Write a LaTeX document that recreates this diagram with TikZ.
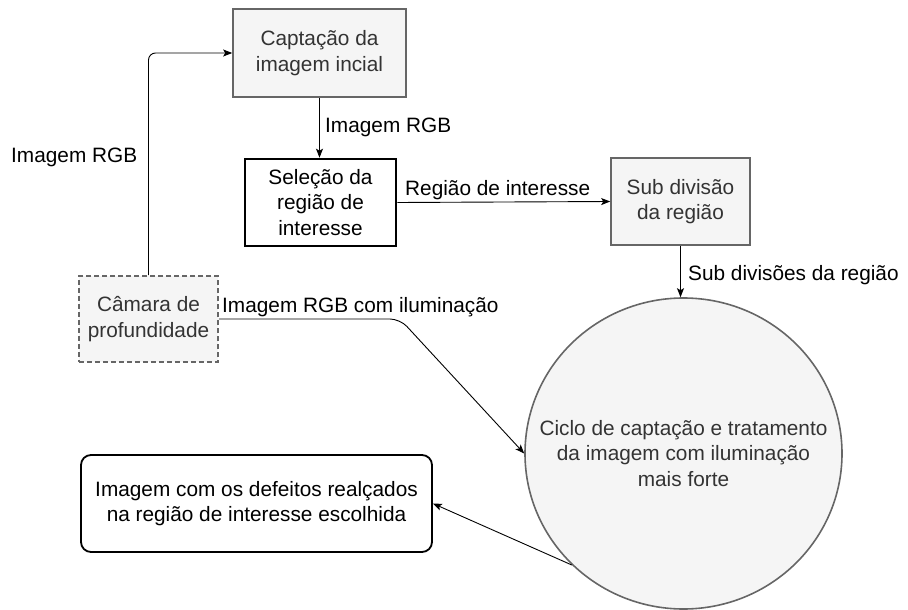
\documentclass[tikz,border=0pt]{standalone}
\usepackage{fontspec}
\setmainfont{Liberation Sans}
\usetikzlibrary{arrows.meta,shapes.geometric}
\definecolor{boxfill}{HTML}{F5F5F5}
\definecolor{boxline}{HTML}{666666}
\definecolor{boxtext}{HTML}{333333}
\begin{document}
\begin{tikzpicture}[x=1pt,y=-1pt,
  every node/.style={font=\fontsize{20.8}{25.5}\selectfont, align=center, inner sep=0pt},
  graybox/.style={draw=boxline, line width=1.6pt, fill=boxfill, text=boxtext},
  thickbox/.style={draw=black, line width=2.6pt, fill=white, text=black},
  dashbox/.style={graybox, dashed, dash pattern=on 5pt off 3pt},
  outbox/.style={draw=black, line width=1.8pt, fill=white, rounded corners=10pt},
  arr/.style={draw=black, line width=0.9pt, -{Stealth[length=9pt,width=7pt,inset=2pt]}},
  lbl/.style={text=black, anchor=west}]
\useasboundingbox (0,0) rectangle (908,610);
\node[graybox, minimum width=173pt, minimum height=88pt] (b1) at (319.5,53) {Captação da\\imagem incial};
\node[thickbox, minimum width=151pt, minimum height=87pt] (b2) at (320.5,202.5) {Seleção da\\região de\\interesse};
\node[graybox, minimum width=139pt, minimum height=87pt] (b3) at (680.5,201.5) {Sub divisão\\da região};
\node[dashbox, minimum width=139pt, minimum height=86pt] (cam) at (148.5,319) {Câmara de\\profundidade};
\node[ellipse, graybox, minimum width=317pt, minimum height=311pt] (circ) at (683.5,453.5) {};
\node[text=boxtext] (ctext) at (circ.center) {Ciclo de captação e tratamento\\da imagem com iluminação\\mais forte};
\node[outbox, minimum width=351pt, minimum height=97pt] (out) at (256.5,503.5) {Imagem com os defeitos realçados\\na região de interesse escolhida};

\coordinate (k1) at (400,319);
\draw[arr, rounded corners=7pt] (cam.north) |- (b1.west);
\draw[arr] (b1.south) -- (b1.south |- b2.north);
\draw[arr] (b2.east) -- (b3.west);
\draw[arr] (b3.south) -- (b3.south |- circ.north);
\draw[arr, rounded corners=10pt] (cam.east |- k1) -- (k1) -- (circ.west);
\draw[arr] (circ.225) -- (out.east);

\node[lbl] (l1) at (11,157) {Imagem RGB};
\node[lbl] (l2) at (325,127) {Imagem RGB};
\node[lbl] (l3) at (405,190) {Região de interesse};
\node[lbl] (l4) at (688,275) {Sub divisões da região};
\node[lbl] (l5) at (222,307) {Imagem RGB com iluminação};
\end{tikzpicture}
\end{document}
